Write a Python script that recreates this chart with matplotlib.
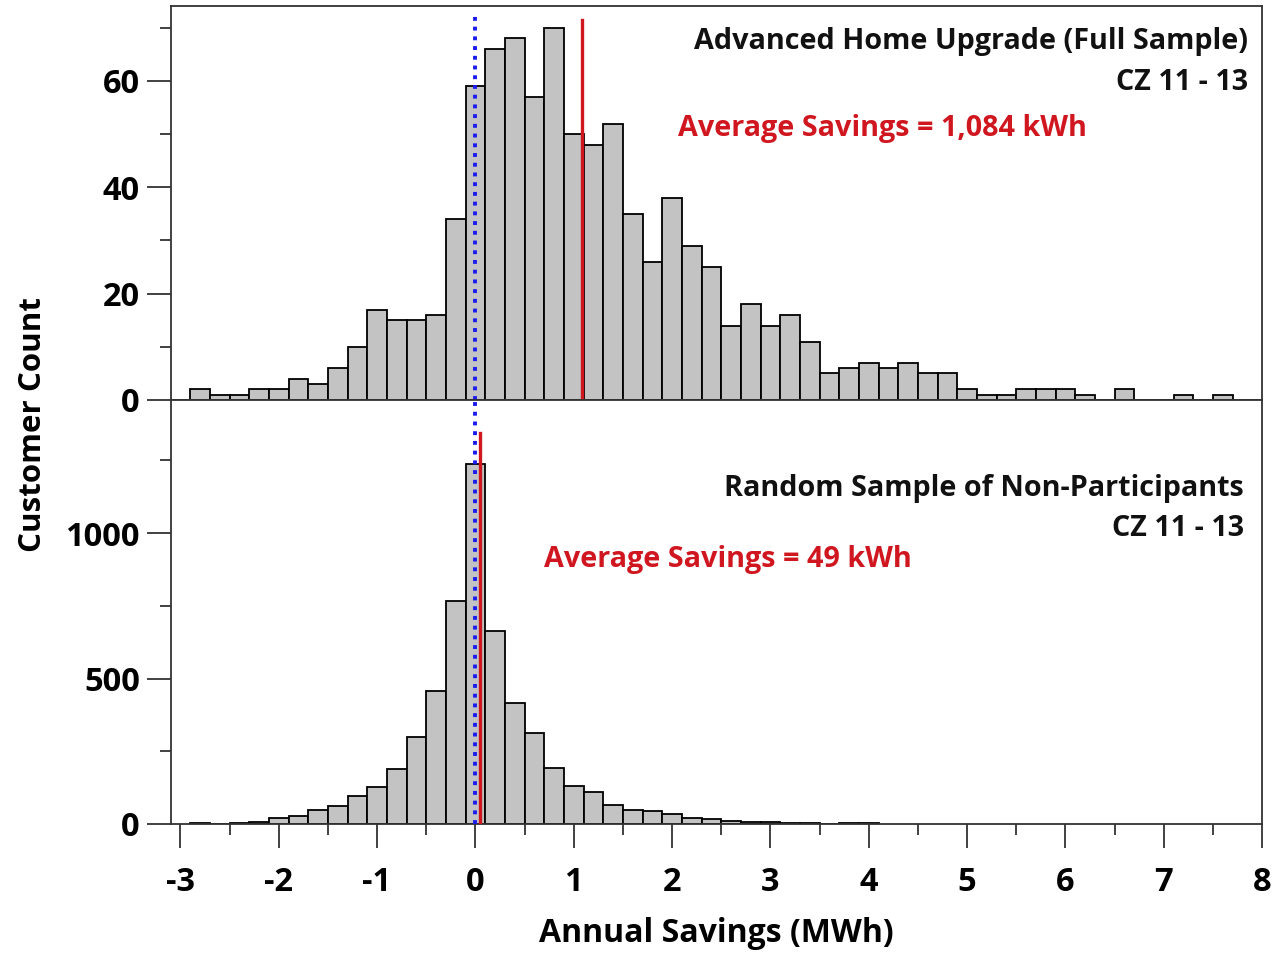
import numpy as np
import matplotlib
matplotlib.use("Agg")
import matplotlib.pyplot as plt
from matplotlib.ticker import MultipleLocator

plt.rcParams['font.family'] = ['Open Sans', 'DejaVu Sans']
plt.rcParams['font.weight'] = 'bold'
plt.rcParams['axes.unicode_minus'] = False

# ---- data ----
BIN_START = -2.9
BIN_WIDTH = 0.2
participants_counts = [2, 1, 1, 2, 2, 4, 3, 6, 10, 17, 15, 15, 16, 34, 59, 66, 68, 57, 70,
                       50, 48, 52, 35, 26, 38, 29, 25, 14, 18, 14, 16, 11, 5, 6, 7, 6, 7, 5,
                       5, 2, 1, 1, 2, 2, 2, 1, 0, 2, 0, 0, 1, 0, 1]
nonpart_counts = [5, 1, 3, 6, 21, 29, 48, 62, 96, 126, 189, 300, 457, 768, 1237, 665, 415,
                  314, 194, 131, 111, 64, 49, 43, 35, 22, 17, 12, 8, 8, 4, 3, 1, 2, 2]
participants_mean_mwh = 1.084
nonpart_mean_mwh = 0.049
top_title = "Advanced Home Upgrade (Full Sample)"
bottom_title = "Random Sample of Non-Participants"
zone_label = "CZ 11 - 13"
top_avg_label = "Average Savings = 1,084 kWh"
bottom_avg_label = "Average Savings = 49 kWh"
x_label = "Annual Savings (MWh)"
y_label = "Customer Count"

RED = '#d0161f'
BLUE = '#1a1aee'
BAR = '#c3c3c3'

W, H = 1288, 958
fig = plt.figure(figsize=(W / 100, H / 100), dpi=100)
left = 170.5 / W
right = 1262 / W
ax_top = fig.add_axes([left, 1 - 400 / H, right - left, 394 / H])
ax_bot = fig.add_axes([left, 1 - 824 / H, right - left, 424 / H], sharex=ax_top)

def draw_hist(ax, counts):
    lefts = BIN_START + BIN_WIDTH * np.arange(len(counts))
    ax.bar(lefts, counts, width=BIN_WIDTH, align='edge', color=BAR,
           edgecolor='black', linewidth=1.3, zorder=2)

draw_hist(ax_top, participants_counts)
draw_hist(ax_bot, nonpart_counts)

ax_top.set_xlim(-3.1, 8.0)
ax_top.set_ylim(0, 74.1)
ax_bot.set_ylim(0, 1458)

# vertical reference lines
ax_top.plot([0, 0], [0, 72.5], color=BLUE, linewidth=2.8, linestyle=(0, (1, 1.5)),
            zorder=4, solid_capstyle='butt')
ax_top.plot([participants_mean_mwh] * 2, [0, 71.4], color=RED, linewidth=2.4, zorder=3)
ax_bot.plot([0, 0], [0, 1458], color=BLUE, linewidth=2.8, linestyle=(0, (1, 1.5)),
            zorder=4, clip_on=False)
ax_bot.plot([nonpart_mean_mwh] * 2, [0, 1344], color=RED, linewidth=2.4, zorder=3)

TICK_FS = 23.5
for ax in (ax_top, ax_bot):
    for s in ax.spines.values():
        s.set_linewidth(1.3)
        s.set_color('#333333')
    ax.tick_params(axis='both', which='major', direction='out', length=17, width=1.3,
                   labelsize=TICK_FS, color='#333333', pad=5)
    ax.tick_params(axis='both', which='minor', direction='out', length=8, width=1.3,
                   color='#333333')
ax_bot.tick_params(axis='x', which='major', pad=13)

ax_top.yaxis.set_major_locator(MultipleLocator(20))
ax_top.yaxis.set_minor_locator(MultipleLocator(10))
ax_bot.yaxis.set_major_locator(MultipleLocator(500))
ax_bot.yaxis.set_minor_locator(MultipleLocator(250))
ax_bot.xaxis.set_major_locator(MultipleLocator(1))
ax_bot.xaxis.set_minor_locator(MultipleLocator(0.5))
ax_top.tick_params(axis='x', which='both', bottom=False, labelbottom=False)

for lab in ax_top.get_yticklabels() + ax_bot.get_yticklabels() + ax_bot.get_xticklabels():
    lab.set_fontweight('bold')

fig.text((170.5 + 1262) / 2 / W, 1 - 933 / H, x_label, fontsize=23, fontweight='bold',
         ha='center', va='center')
fig.text(33 / W, 1 - 425 / H, y_label, rotation=90, fontsize=22.5, fontweight='bold',
         ha='center', va='center')

# annotations
FS = 20.7
ax_top.text(0.987, 0.911, top_title, transform=ax_top.transAxes, ha='right', va='center',
            fontsize=FS, fontweight='bold', color='#111111')
ax_top.text(0.987, 0.807, zone_label, transform=ax_top.transAxes, ha='right', va='center',
            fontsize=FS, fontweight='bold', color='#111111')
ax_top.text(0.465, 0.690, top_avg_label, transform=ax_top.transAxes, ha='left', va='center',
            fontsize=FS, fontweight='bold', color=RED)
ax_bot.text(0.9836, 0.791, bottom_title, transform=ax_bot.transAxes, ha='right', va='center',
            fontsize=FS, fontweight='bold', color='#111111')
ax_bot.text(0.9836, 0.697, zone_label, transform=ax_bot.transAxes, ha='right', va='center',
            fontsize=FS, fontweight='bold', color='#111111')
ax_bot.text(0.342, 0.624, bottom_avg_label, transform=ax_bot.transAxes, ha='left', va='center',
            fontsize=FS, fontweight='bold', color=RED)

fig.savefig('out.png', dpi=100)
